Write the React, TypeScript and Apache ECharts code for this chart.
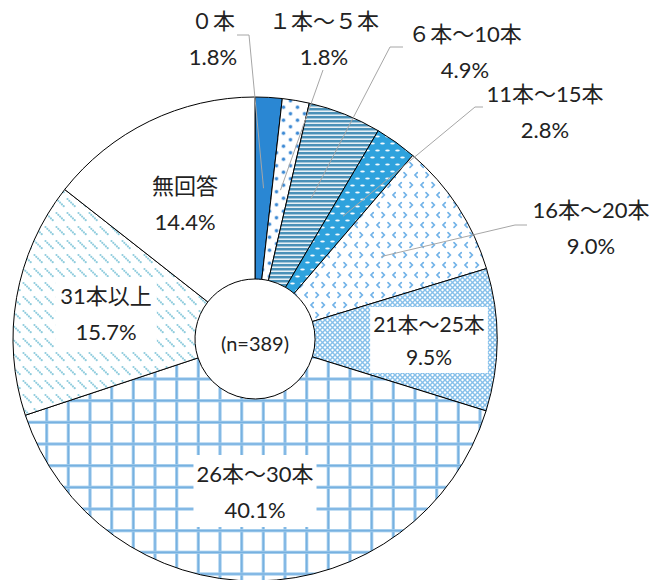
import React, { useEffect, useRef } from 'react';
import * as echarts from 'echarts';

// ---- data ----
const categories = ['０本', '１本～５本', '６本～10本', '11本～15本', '16本～20本', '21本～25本', '26本～30本', '31本以上', '無回答'];
const percents = [1.8, 1.8, 4.9, 2.8, 9.0, 9.5, 40.1, 15.7, 14.4];
const sampleSize = 389;

// ---- layout (label block centres and leader-line bends) ----
const CX = 255;
const CY = 339;
const R_IN = 60;
const R_OUT = 242;
const LEADER_R = 151;
const labelCenters: number[][] = [
  [213, 38.5], [324, 38.5], [465, 51], [545, 111.5], [591, 227.5],
  [429, 340], [255, 491], [106, 313], [185, 203.5],
];
const leaderBends: (number[][] | null)[] = [
  [[249, 35], [237, 35]],
  [[323, 70], [323, 70]],
  [[390, 47], [403, 47]],
  [[475, 107], [483, 107]],
  [[515, 225], [527, 225]],
  null, null, null, null,
];

function tile(w: number, h: number, draw: (c: CanvasRenderingContext2D) => void) {
  const cv = document.createElement('canvas');
  cv.width = w;
  cv.height = h;
  const ctx = cv.getContext('2d')!;
  draw(ctx);
  return { image: cv, repeat: 'repeat' } as any;
}

function makeFills() {
  const solid = '#2A87D3';
  const dots = tile(14, 13, (c) => {
    c.fillStyle = '#fff';
    c.fillRect(0, 0, 14, 13);
    const pts = [[3.5, 3.25], [10.5, 9.75]];
    for (const [x, y] of pts) {
      c.fillStyle = 'rgba(61,138,212,0.35)';
      c.beginPath(); c.arc(x, y, 2.3, 0, Math.PI * 2); c.fill();
      c.fillStyle = '#3D8AD4';
      c.beginPath(); c.arc(x, y, 1.4, 0, Math.PI * 2); c.fill();
    }
  });
  const stripes = tile(4, 4, (c) => {
    c.fillStyle = '#E6F0F5';
    c.fillRect(0, 0, 4, 4);
    c.fillStyle = '#4A91B8';
    c.fillRect(0, 0, 4, 2);
    c.fillStyle = '#A2C6DA';
    c.fillRect(0, 2, 4, 1);
  });
  const ovals = tile(10, 14, (c) => {
    c.fillStyle = '#2EA2DD';
    c.fillRect(0, 0, 10, 14);
    c.fillStyle = 'rgba(255,255,255,0.95)';
    for (const [x, y] of [[2.5, 3.5], [7.5, 10.5]]) {
      c.beginPath(); c.ellipse(x, y, 2.3, 1.1, 0, 0, Math.PI * 2); c.fill();
    }
  });
  const chevrons = tile(22, 20, (c) => {
    c.fillStyle = '#fff';
    c.fillRect(0, 0, 22, 20);
    c.strokeStyle = '#72B3E8';
    c.lineWidth = 1.7;
    c.lineCap = 'round';
    const lt = (x: number, y: number) => { c.beginPath(); c.moveTo(x + 2.3, y - 2.3); c.lineTo(x, y); c.lineTo(x + 2.3, y + 2.3); c.stroke(); };
    const gt = (x: number, y: number) => { c.beginPath(); c.moveTo(x, y - 2.3); c.lineTo(x + 2.3, y); c.lineTo(x, y + 2.3); c.stroke(); };
    lt(3, 5);
    gt(14, 5);
    gt(8, 15);
    lt(19, 15);
  });
  const lattice = tile(5, 5, (c) => {
    c.fillStyle = '#fff';
    c.fillRect(0, 0, 5, 5);
    c.strokeStyle = '#86C0EA';
    c.lineWidth = 1.4;
    c.beginPath(); c.moveTo(0, 0); c.lineTo(5, 5); c.stroke();
    c.beginPath(); c.moveTo(5, 0); c.lineTo(0, 5); c.stroke();
  });
  const grid = tile(65, 65, (c) => {
    c.fillStyle = '#fff';
    c.fillRect(0, 0, 65, 65);
    for (const x of [3.3, 25, 46.7]) {
      c.fillStyle = '#9CC9EC';
      c.fillRect(x - 1.6, 0, 3.2, 65);
      c.fillStyle = '#74AFDF';
      c.fillRect(x - 0.6, 0, 1.2, 65);
    }
    for (const y of [10.7, 32.3, 54]) {
      c.fillStyle = '#9CC9EC';
      c.fillRect(0, y - 1.6, 65, 3.2);
      c.fillStyle = '#74AFDF';
      c.fillRect(0, y - 0.6, 65, 1.2);
    }
  });
  const diag = tile(11, 14, (c) => {
    c.fillStyle = '#fff';
    c.fillRect(0, 0, 11, 14);
    c.fillStyle = '#8FCCDD';
    for (let k = 0; k < 5; k++) {
      c.beginPath();
      c.arc(1.5 + k * 1.8, 3 + k * 1.8, 1.1, 0, Math.PI * 2);
      c.fill();
    }
  });
  return [solid, dots, stripes, ovals, chevrons, lattice, grid, diag, '#ffffff'];
}

function leaderStart(i: number): number[] {
  let before = 0;
  for (let k = 0; k < i; k++) before += percents[k];
  const total = percents.reduce((a, b) => a + b, 0);
  const mid = ((before + percents[i] / 2) / total) * Math.PI * 2;
  return [CX + LEADER_R * Math.sin(mid), CY - LEADER_R * Math.cos(mid)];
}

export default function App() {
  const ref = useRef<HTMLDivElement>(null);
  useEffect(() => {
    if (!ref.current) return;
    const chart = echarts.init(ref.current, undefined, { renderer: 'svg' });
    const fills = makeFills();
    const font = "Lato, 'Noto Sans CJK JP', sans-serif";
    const labelExtra: Record<number, any> = {
      5: { backgroundColor: '#ffffff', padding: [0, 3], fontSize: 21, lineHeight: 33 },
      6: { backgroundColor: '#ffffff', padding: [0, 3] },
      7: { backgroundColor: '#ffffff', padding: [0, 5] },
    };
    const data = categories.map((name, i) => ({
      name,
      value: percents[i],
      itemStyle: { color: fills[i] },
      label: labelExtra[i] || {},
    }));
    const leaders = categories
      .map((_, i) => i)
      .filter((i) => leaderBends[i])
      .map((i) => ({
        type: 'polyline',
        z: 50,
        silent: true,
        shape: { points: [leaderStart(i), ...(leaderBends[i] as number[][])] },
        style: { stroke: '#A6A6A6', lineWidth: 1, fill: null },
      }));
    chart.setOption({
      animation: false,
      backgroundColor: '#ffffff',
      graphic: [
        ...leaders,
        {
          type: 'text',
          x: CX,
          y: CY + 4,
          z: 100,
          style: {
            text: `(n=${sampleSize})`,
            fontSize: 20,
            fontFamily: font,
            fill: '#222',
            align: 'center',
            verticalAlign: 'middle',
          },
        },
      ],
      series: [
        {
          type: 'pie',
          center: [CX, CY],
          radius: [R_IN, R_OUT],
          startAngle: 90,
          clockwise: true,
          avoidLabelOverlap: false,
          itemStyle: { borderColor: '#000', borderWidth: 1 },
          emphasis: { disabled: true },
          label: {
            show: true,
            position: 'outside',
            formatter: (p: any) => `${p.name}\n${percents[p.dataIndex].toFixed(1)}%`,
            fontSize: 22,
            lineHeight: 36,
            color: '#222',
            fontFamily: font,
            align: 'center',
          },
          labelLine: { show: false },
          labelLayout: (params: any) => {
            const i = params.dataIndex;
            const [x, y] = labelCenters[i];
            return { x, y, align: 'center', verticalAlign: 'middle' };
          },
          data,
        },
      ],
    });
    return () => chart.dispose();
  }, []);
  return (
    <div
      ref={ref}
      style={{ position: 'absolute', left: 0, top: 0, width: 652, height: 580 }}
    />
  );
}
